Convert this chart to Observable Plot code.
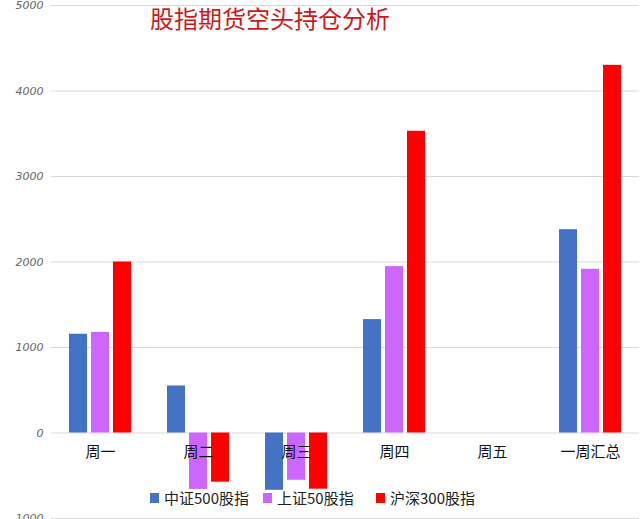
<!DOCTYPE html>
<html>
<head>
<meta charset="utf-8">
<script src="https://cdn.jsdelivr.net/npm/d3@7"></script>
<script src="https://cdn.jsdelivr.net/npm/@observablehq/plot@0.6"></script>
<style>
  body { margin: 0; background: #fff; }
  #wrap { position: relative; width: 640px; height: 519px; overflow: hidden; font-family: "Noto Sans CJK SC", "Noto Sans", sans-serif; }
  #title { position: absolute; left: 150px; top: 5px; font-size: 24px; line-height: 1.1; color: #d01818; white-space: nowrap; }
  #legend { position: absolute; top: 490px; left: 150px; display: flex; align-items: center; font-size: 15px; line-height: 1.1; color: #222; }
  #legend .item { display: flex; align-items: center; width: 113px; }
  #legend .sw { width: 9px; height: 10px; margin-right: 5px; flex: none; }
</style>
</head>
<body>
<div id="wrap">
  <div id="chart"></div>
  <div id="title"></div>
  <div id="legend"></div>
</div>
<script>
const titleText = "股指期货空头持仓分析";
const categories = ["周一", "周二", "周三", "周四", "周五", "一周汇总"];
const seriesNames = ["中证500股指", "上证50股指", "沪深300股指"];
const csi500 = [1155, 550, -670, 1326, 0, 2378];
const sse50 = [1177, -660, -553, 1946, 0, 1915];
const hs300 = [2000, -575, -657, 3529, 0, 4300];
const yTicks = [-1000, 0, 1000, 2000, 3000, 4000, 5000];
const colors = ["#4472c4", "#cc66ff", "#ff0000"];

const seriesValues = [csi500, sse50, hs300];
const rows = [];
categories.forEach((c, i) => {
  seriesNames.forEach((s, j) => {
    rows.push({cat: c, series: s, value: seriesValues[j][i]});
  });
});

const chart = Plot.plot({
  width: 640,
  height: 519,
  marginLeft: 50,
  marginRight: 0,
  marginTop: 5,
  marginBottom: 1,
  fx: {domain: categories, padding: 0, axis: null},
  x: {domain: seriesNames, paddingInner: 0.2, paddingOuter: 0.8, axis: null},
  y: {domain: [-1000, 5000], axis: null},
  color: {domain: seriesNames, range: colors},
  style: {fontFamily: "\"Noto Sans CJK SC\", sans-serif", background: "#fff"},
  marks: [
    Plot.ruleY(yTicks, {y: d => d, stroke: "#d9d9d9", strokeWidth: 1}),
    Plot.barY(rows, {fx: "cat", x: "series", y: "value", fill: "series"}),
    Plot.text(categories, {fx: d => d, y: 0, text: d => d, dy: 19, fontSize: 15, fill: "#111"}),
    Plot.axisY(yTicks, {
      label: null, tickSize: 0, tickPadding: 8, tickFormat: d => String(d),
      fontSize: 11, fontStyle: "italic", fill: "#666", fontFamily: "DejaVu Sans"
    })
  ]
});
document.getElementById("chart").appendChild(chart);

document.getElementById("title").textContent = titleText;
const legend = document.getElementById("legend");
seriesNames.forEach((s, j) => {
  const item = document.createElement("div");
  item.className = "item";
  const sw = document.createElement("span");
  sw.className = "sw";
  sw.style.background = colors[j];
  const label = document.createElement("span");
  label.textContent = s;
  item.appendChild(sw);
  item.appendChild(label);
  legend.appendChild(item);
});
</script>
</body>
</html>
